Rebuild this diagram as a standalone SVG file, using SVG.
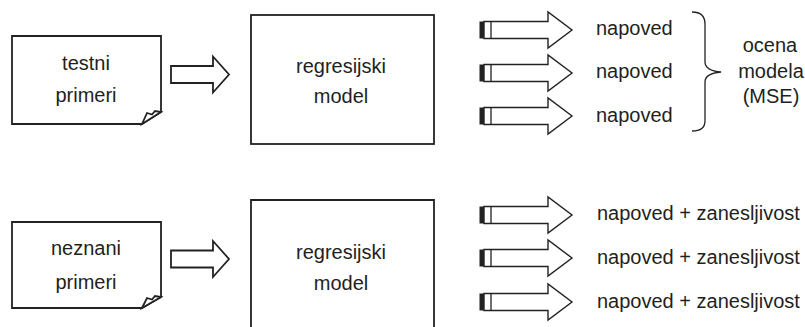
<svg xmlns="http://www.w3.org/2000/svg" width="805" height="327" viewBox="0 0 805 327">
<style>
  .ln { fill: #ffffff; stroke: #222222; stroke-width: 1.8; stroke-linejoin: miter; }
  .ar { fill: #ffffff; stroke: #222222; stroke-width: 1.4; stroke-linejoin: miter; }
  .open { fill: none; stroke: #222222; stroke-width: 1.3; }
  .t { font-family: "Liberation Sans", Arial, sans-serif; font-size: 20px; fill: #231f20; }
  .c { text-anchor: middle; }
  .bar { fill: #222222; }
</style>
<defs>
  <g id="outArrow">
    <rect class="bar" x="479.5" y="-8.5" width="4.5" height="17"/>
    <polygon class="ar" points="484,-8.5 548,-8.5 548,-18 572,0 548,18 548,8.5 484,8.5"/>
    <line class="open" x1="491" y1="-8.5" x2="491" y2="8.5"/>
  </g>
  <polygon id="inArrow" class="ln" points="171,-8.5 213,-8.5 213,-18 229,0 213,18 213,8.5 171,8.5"/>
</defs>

<g id="doc-testni">
  <path class="ln" d="M12,36 L161,36 L161,112 L142,124 L12,124 Z"/>
  <path class="ln" d="M142,124 L147,113 L152,114.5 L155,111 L161,112 Z"/>
  <text class="t c" x="86" y="70">testni</text>
  <text class="t c" x="86" y="102">primeri</text>
</g>

<g id="model-top">
  <rect class="ln" x="251" y="15" width="183" height="129"/>
  <text class="t c" x="341" y="73">regresijski</text>
  <text class="t c" x="341" y="103">model</text>
</g>

<g id="doc-neznani">
  <path class="ln" d="M12,222 L161,222 L161,297 L142,308 L12,308 Z"/>
  <path class="ln" d="M142,308 L147,298 L152,299.5 L155,296 L161,297 Z"/>
  <text class="t c" x="86" y="255">neznani</text>
  <text class="t c" x="86" y="289">primeri</text>
</g>

<g id="model-bottom">
  <path class="ln" d="M251,330 L251,200 L434,200 L434,330"/>
  <text class="t c" x="341" y="259">regresijski</text>
  <text class="t c" x="341" y="290">model</text>
</g>

<g id="connectors">
  <use href="#inArrow" transform="translate(0,74.5)"/>
  <use href="#inArrow" transform="translate(0,259)"/>
  <use href="#outArrow" transform="translate(0,30)"/>
  <use href="#outArrow" transform="translate(0,73)"/>
  <use href="#outArrow" transform="translate(0,116)"/>
  <use href="#outArrow" transform="translate(0,215)"/>
  <use href="#outArrow" transform="translate(0,258)"/>
  <use href="#outArrow" transform="translate(0,302)"/>
  <path class="open" d="M692,12 C700,12 705,15 705,24 L705,62 C705,68 710,71 721,72 C710,73 705,76 705,82 L705,121 C705,128 700,131 692,131"/>
</g>

<g id="labels-top">
  <text class="t" x="596" y="35">napoved</text>
  <text class="t" x="596" y="78">napoved</text>
  <text class="t" x="596" y="122">napoved</text>
</g>

<g id="label-mse">
  <text class="t c" x="770" y="52">ocena</text>
  <text class="t c" x="771" y="78">modela</text>
  <text class="t c" x="771" y="103">(MSE)</text>
</g>

<g id="labels-bottom">
  <text class="t" x="597" y="220">napoved + zanesljivost</text>
  <text class="t" x="597" y="264">napoved + zanesljivost</text>
  <text class="t" x="597" y="308">napoved + zanesljivost</text>
</g>
</svg>
